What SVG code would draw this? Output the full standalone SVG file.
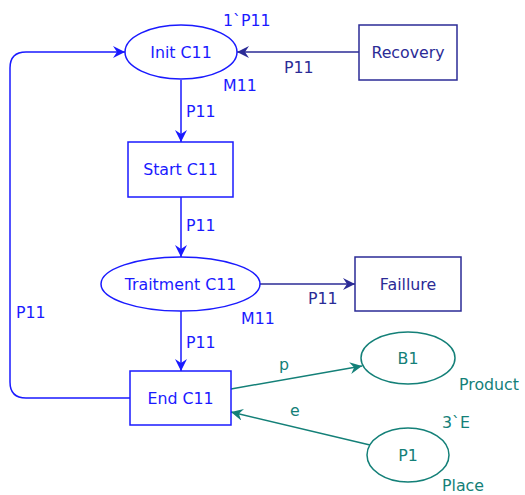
<svg xmlns="http://www.w3.org/2000/svg" width="525" height="495" viewBox="0 0 525 495">
<style>
text{font-family:"DejaVu Sans",Verdana,sans-serif;font-size:15.8px}
.b{fill:none;stroke:#1a1aff;stroke-width:1.5}
.n{fill:none;stroke:#2b2b96;stroke-width:1.5}
.t{fill:none;stroke:#148078;stroke-width:1.5}
.bt{fill:#1a1aff}.nt{fill:#2b2b96}.tt{fill:#148078}
</style>
<defs>
<marker id="ab" markerUnits="userSpaceOnUse" markerWidth="14" markerHeight="12" refX="12" refY="6" orient="auto"><path d="M0,0 L12,6 L0,12 L4,6 z" fill="#1a1aff"/></marker>
<marker id="an" markerUnits="userSpaceOnUse" markerWidth="14" markerHeight="12" refX="12" refY="6" orient="auto"><path d="M0,0 L12,6 L0,12 L4,6 z" fill="#2b2b96"/></marker>
<marker id="at" markerUnits="userSpaceOnUse" markerWidth="14" markerHeight="12" refX="12" refY="6" orient="auto"><path d="M0,0 L12,6 L0,12 L4,6 z" fill="#148078"/></marker>
</defs>
<g id="connectors">
<path class="b" d="M130,398 H26 Q10,398 10,382 V68 Q10,52 26,52 H125" marker-end="url(#ab)"/>
<path class="n" d="M359,52 H237" marker-end="url(#an)"/>
<path class="b" d="M181,80 V142" marker-end="url(#ab)"/>
<path class="b" d="M181,197 V257" marker-end="url(#ab)"/>
<path class="n" d="M260,284 H355" marker-end="url(#an)"/>
<path class="b" d="M181,311 V371" marker-end="url(#ab)"/>
<path class="t" d="M231,389 L362,366" marker-end="url(#at)"/>
<path class="t" d="M370,445 L231,412" marker-end="url(#at)"/>
<text class="nt" x="284" y="73">P11</text>
<text class="bt" x="186" y="117">P11</text>
<text class="bt" x="186" y="231">P11</text>
<text class="nt" x="308" y="304">P11</text>
<text class="bt" x="186" y="348">P11</text>
<text class="bt" x="16" y="318">P11</text>
<text class="tt" x="279" y="370">p</text>
<text class="tt" x="290" y="416">e</text>
</g>
<g id="init">
<ellipse class="b" cx="181" cy="52" rx="56" ry="27"/>
<text class="bt" x="181" y="58" text-anchor="middle">Init C11</text>
<text class="bt" x="223" y="26">1`P11</text>
<text class="bt" x="223" y="91">M11</text>
</g>
<g id="recovery">
<rect class="n" x="359" y="25" width="98" height="55"/>
<text class="nt" x="408" y="58" text-anchor="middle">Recovery</text>
</g>
<g id="start">
<rect class="b" x="128" y="142" width="105" height="55"/>
<text class="bt" x="180.5" y="175" text-anchor="middle">Start C11</text>
</g>
<g id="traitment">
<ellipse class="b" cx="180.5" cy="284" rx="79.5" ry="27"/>
<text class="bt" x="180.5" y="290" text-anchor="middle">Traitment C11</text>
<text class="bt" x="241" y="324">M11</text>
</g>
<g id="faillure">
<rect class="n" x="355" y="257" width="106" height="54"/>
<text class="nt" x="408" y="290" text-anchor="middle">Faillure</text>
</g>
<g id="end">
<rect class="b" x="130" y="371" width="101" height="54"/>
<text class="bt" x="180.5" y="404" text-anchor="middle">End C11</text>
</g>
<g id="b1">
<ellipse class="t" cx="408" cy="358" rx="47" ry="26"/>
<text class="tt" x="408" y="364" text-anchor="middle">B1</text>
<text class="tt" x="459" y="390">Product</text>
</g>
<g id="p1">
<ellipse class="t" cx="408" cy="455" rx="41" ry="27"/>
<text class="tt" x="408" y="461" text-anchor="middle">P1</text>
<text class="tt" x="442" y="428">3`E</text>
<text class="tt" x="442" y="491">Place</text>
</g>
</svg>
